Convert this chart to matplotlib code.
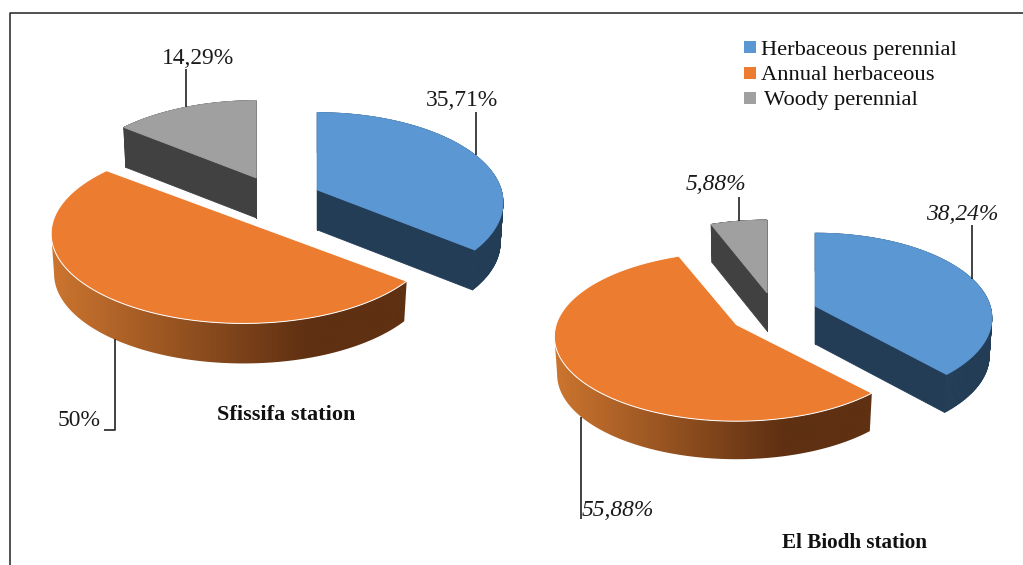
import numpy as np
import matplotlib
matplotlib.use("Agg")
import matplotlib.pyplot as plt
from matplotlib.collections import PolyCollection
from matplotlib.patches import Polygon, Rectangle
from matplotlib.colors import LinearSegmentedColormap

categories = ["Herbaceous perennial", "Annual herbaceous", "Woody perennial"]
sfissifa_values = [35.71, 50.0, 14.29]
sfissifa_labels = ["35,71%", "50%", "14,29%"]
biodh_values = [38.24, 55.88, 5.88]
biodh_labels = ["38,24%", "55,88%", "5,88%"]

TOP = ["#5b97d3", "#ec7c30", "#a0a0a0"]
SIDE = ["#233d57", None, "#414141"]
ramp = LinearSegmentedColormap.from_list(
    "side", [(0, "#cc752f"), (0.72, "#5f3012"), (1, "#5f3012")])

plt.rcParams["font.family"] = ["Liberation Serif", "DejaVu Serif"]
fig = plt.figure(figsize=(10.23, 5.65), dpi=100)
ax = fig.add_axes([0, 0, 1, 1])
ax.set_xlim(0, 1023)
ax.set_ylim(565, 0)
ax.axis("off")

# frame (top and left edges only are visible)
ax.plot([9.5, 9.5, 1023], [565, 13, 13], color="#222222", lw=1.1, zorder=1)


def project(t, apex, rx, ry, k=0.14):
    u, v = np.sin(t), -np.cos(t)
    s = 1 / (1 - k * v)
    return apex[0] + rx * u * s, apex[1] + ry * v * s


def draw_pie(values, labels, label_pos, leader_via, center, explode, squash,
             rx, ry, depth, big_scale, big_dx, italic):
    style = "italic" if italic else "normal"
    fracs = np.array(values) / np.sum(values)
    edges = np.concatenate([[0], np.cumsum(fracs)]) * 2 * np.pi
    order = [2, 0, 1]  # back to front
    for z, i in enumerate(order):
        a0, a1 = edges[i], edges[i + 1]
        mid = (a0 + a1) / 2
        apex = (center[0] + explode * np.sin(mid),
                center[1] - explode * squash * np.cos(mid))
        srx = rx
        if i == 1:
            apex = (apex[0] + big_dx, apex[1])
            srx = rx * big_scale
        t = np.linspace(a0, a1, 240)
        x, y = project(t, apex, srx, ry)
        xo = np.concatenate([[apex[0]], x, [apex[0]]])
        yo = np.concatenate([[apex[1]], y, [apex[1]]])
        xb = apex[0] + (xo - apex[0]) * 0.985
        yb = yo + depth
        if SIDE[i] is None:
            # only the front part of the rim, from the right tip to the left extreme
            m = np.argmin(x) + 1
            xf, yf = x[:m], y[:m]
            xfb = apex[0] + (xf - apex[0]) * 0.985
            outline = np.column_stack([np.concatenate([xf, xfb[::-1]]),
                                       np.concatenate([yf, (yf + depth)[::-1]])])
            clip = Polygon(outline, closed=True, transform=ax.transData,
                           facecolor="none", edgecolor="none")
            ax.add_patch(clip)
            im = ax.imshow(np.linspace(0, 1, 256)[None, :], cmap=ramp, vmin=0, vmax=1,
                           extent=(x.min(), x.max(), 565, 0), aspect="auto",
                           zorder=3 + 2 * z, interpolation="bilinear")
            im.set_clip_path(clip)
            ax.set_xlim(0, 1023)
            ax.set_ylim(565, 0)
        else:
            quads = [[(xo[j], yo[j]), (xo[j + 1], yo[j + 1]),
                      (xb[j + 1], yb[j + 1]), (xb[j], yb[j])]
                     for j in range(len(xo) - 1)]
            ax.add_collection(PolyCollection(quads, facecolors=SIDE[i], edgecolors=SIDE[i],
                                             linewidths=0.6, zorder=3 + 2 * z))
        ax.add_patch(Polygon(np.column_stack([xo, yo]), closed=True, facecolor=TOP[i],
                             edgecolor="white" if i == 1 else TOP[i],
                             lw=0.7, zorder=4 + 2 * z))
        # vertical leader rising from the rim near the slice's mid angle
        lx = leader_via[i][0][0]
        near = np.abs(t - mid) < 0.6
        j = np.argmin(np.abs(x[near] - lx))
        sy = y[near][j] + (depth * 0.95 if i == 1 else 0)
        ax.plot([lx] + [p[0] for p in leader_via[i]],
                [sy] + [p[1] for p in leader_via[i]],
                color="#222222", lw=1.2, zorder=12, solid_capstyle="butt")
        ax.text(label_pos[i][0], label_pos[i][1], labels[i], fontsize=16.9, style=style,
                color="#1a1a1a", ha="center", va="center", zorder=13)


draw_pie(sfissifa_values, sfissifa_labels,
         label_pos=[(462, 100), (79, 421), (198.5, 58)],
         leader_via=[[(476, 112)], [(115, 430), (104, 430)], [(186, 69)]],
         center=(276, 201), explode=45.7, squash=0.563,
         rx=184, ry=88, depth=40, big_scale=1.035, big_dx=-4, italic=False)

draw_pie(biodh_values, biodh_labels,
         label_pos=[(962, 214), (618, 511), (716.5, 185)],
         leader_via=[[(972, 225)], [(581, 519)], [(739, 197)]],
         center=(775, 313.6), explode=43, squash=0.49,
         rx=175, ry=83, depth=38, big_scale=1.03, big_dx=-2, italic=True)

ax.text(286, 415, "Sfissifa station", fontsize=16, fontweight="bold",
        color="#111111", ha="center", va="center")
ax.text(855, 543, "El Biodh station", fontsize=15.2, fontweight="bold",
        color="#111111", ha="center", va="center")

# legend
for cat, col, ys, xt in zip(categories, TOP, [47, 73, 98], [761, 761, 764]):
    ax.add_patch(Rectangle((744, ys - 6), 12, 12, facecolor=col, edgecolor="none"))
    ax.text(xt, ys + 3, cat, fontsize=16.2, color="#111111", ha="left", va="center")

fig.savefig("out.png", dpi=100, facecolor="white")
